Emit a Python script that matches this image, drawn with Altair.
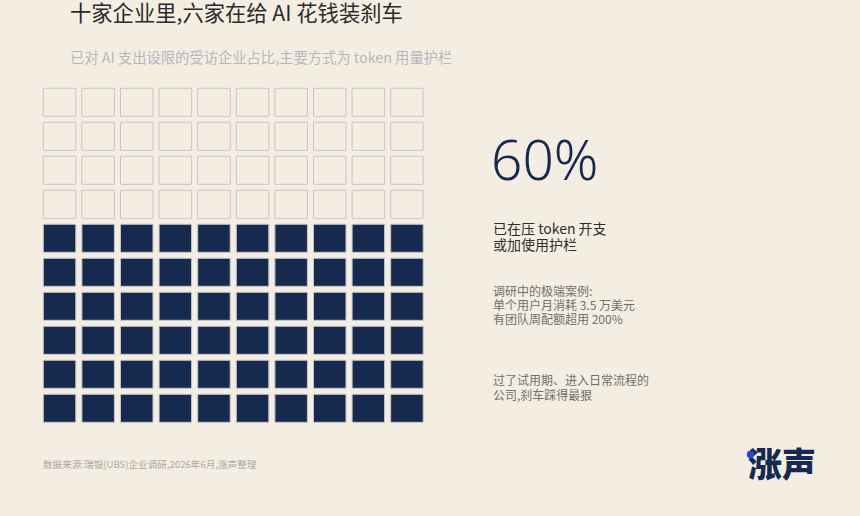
import altair as alt
import pandas as pd

# ---------------- data ----------------
n_cols = 10
n_rows = 10
share_pct = 60  # share of companies limiting AI spend

title_text = "十家企业里,六家在给 AI 花钱装刹车"
subtitle_text = "已对 AI 支出设限的受访企业占比,主要方式为 token 用量护栏"
big_number = "60%"
lead_lines = ["已在压 token 开支", "或加使用护栏"]
case_lines = ["调研中的极端案例:", "单个用户月消耗 3.5 万美元", "有团队周配额超用 200%"]
note_lines = ["过了试用期、进入日常流程的", "公司,刹车踩得最狠"]
source_text = "数据来源:瑞银(UBS)企业调研,2026年6月,涨声整理"
logo_text = "涨声"

# ---------------- style ----------------
BG = "#F4EEE2"
NAVY = "#16294F"
FONT = "Noto Sans CJK SC"

cells = []
for r in range(n_rows):
    for c in range(n_cols):
        idx_from_bottom = (n_rows - 1 - r) * n_cols + c
        cells.append({"col": c, "row": r,
                      "state": "yes" if idx_from_bottom < share_pct else "no"})
grid_df = pd.DataFrame(cells)

grid = alt.Chart(grid_df).mark_rect(strokeWidth=1, stroke="#C6C6C6").encode(
    x=alt.X("col:O", axis=None,
            scale=alt.Scale(range=[43.3, 423.2], paddingInner=0.158, paddingOuter=0)),
    y=alt.Y("row:O", axis=None,
            scale=alt.Scale(range=[88.3, 422.3], paddingInner=0.176, paddingOuter=0)),
    color=alt.Color("state:N", legend=None,
                    scale=alt.Scale(domain=["no", "yes"], range=[BG, NAVY])),
)


def text_layer(text, x, y, size, color, weight="normal", font=FONT,
               baseline="middle", align="left"):
    df = pd.DataFrame({"t": [text]})
    return alt.Chart(df).mark_text(
        align=align, baseline=baseline, fontSize=size, color=color,
        fontWeight=weight, font=font
    ).encode(text="t:N", x=alt.value(x), y=alt.value(y))


layers = [grid]
layers.append(text_layer(title_text, 70, 15, 21.3, "#2B2B2B"))
layers.append(text_layer(subtitle_text, 70, 59, 14.3, "#B3B7BE"))
layers.append(alt.Chart(pd.DataFrame({"t": [big_number]})).mark_text(
    align="left", baseline="alphabetic", fontSize=55, color=NAVY,
    fontWeight=300, font="Noto Sans"
).encode(text="t:N", x=alt.value(491), y=alt.value(180)))

for i, line in enumerate(lead_lines):
    layers.append(text_layer(line, 493, 229.5 + i * 16.5, 14, "#2E2E2E"))
for i, line in enumerate(case_lines):
    layers.append(text_layer(line, 493, 292 + i * 14, 12, "#6E6E6E"))
for i, line in enumerate(note_lines):
    layers.append(text_layer(line, 493, 380.5 + i * 15, 12, "#6E6E6E"))

layers.append(text_layer(source_text, 43, 465, 9.6, "#ABA8A2"))
layers.append(text_layer(logo_text, 782, 467, 34, NAVY, weight=900, align="center"))
layers.append(alt.Chart(pd.DataFrame({"k": [1]})).mark_circle(
    size=55, color="#2447D8", opacity=1
).encode(x=alt.value(750.5), y=alt.value(454.5)))

chart = alt.layer(*layers).properties(
    width=860, height=516, background=BG, padding=0,
    autosize=alt.AutoSizeParams(type="none"),
).configure_view(stroke=None)

chart.save("out.html", embed_options={"renderer": "svg", "actions": False})
